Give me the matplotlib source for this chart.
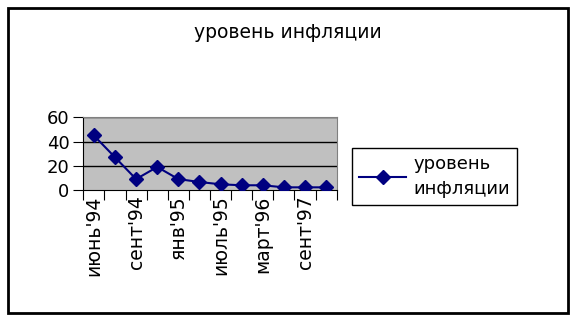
import matplotlib.pyplot as plt
from matplotlib.patches import Rectangle
import numpy as np

plt.rcParams['font.family'] = ['DejaVu Sans']

# periods (only every second one is labelled on the chart)
periods = ["июнь'94", "", "сент'94", "", "янв'95", "", "июль'95", "", "март'96", "", "сент'97", ""]
inflation = [45, 27, 9, 19, 9, 6.6, 4.7, 3.9, 3.9, 2.2, 2.2, 2.2]
y_ticks = [0, 20, 40, 60]
series_name = "уровень\nинфляции"
title = "уровень инфляции"

fig = plt.figure(figsize=(5.76, 3.23), dpi=100)
fig.patches.append(Rectangle((8 / 576, 1 - 313 / 323), 560 / 576, 305 / 323,
                             transform=fig.transFigure, fill=False,
                             edgecolor='black', linewidth=2))

ax = fig.add_axes([83.3 / 576, 1 - 190 / 323, 253.4 / 576, 72.7 / 323])
ax.set_facecolor('#C0C0C0')

x = np.arange(len(inflation))
ax.plot(x, inflation, color='#000080', marker='D', markersize=7, linewidth=1.5,
        label=series_name, zorder=3)

ax.set_xlim(-0.5, len(inflation) - 0.5)
ax.set_ylim(0, 60)
ax.set_yticks(y_ticks)
ax.tick_params(axis='y', labelsize=13, length=7, direction='out', pad=3)
for yv in y_ticks[1:]:
    ax.axhline(yv, color='black', linewidth=1, zorder=1)

# category boundaries get the tick marks, labels sit in the middle
ax.set_xticks(np.arange(-0.5, len(inflation), 1))
ax.set_xticklabels([])
ax.tick_params(axis='x', which='major', length=7, direction='out')
ax.set_xticks(x, minor=True)
ax.set_xticklabels(periods, minor=True, rotation=90, fontsize=13.5)
ax.tick_params(axis='x', which='minor', length=0, pad=4)

ax.spines['left'].set_color('black')
ax.spines['bottom'].set_color('black')
ax.spines['top'].set_color('#808080')
ax.spines['right'].set_color('#808080')

fig.text(0.5, 1 - 33 / 323, title, ha='center', va='center', fontsize=13.5)

leg = ax.legend(loc='center left', bbox_to_anchor=(352 / 576, 1 - 176.5 / 323),
                bbox_transform=fig.transFigure, fontsize=13, fancybox=False,
                edgecolor='black', framealpha=1, handlelength=2.6,
                borderpad=0.4, borderaxespad=0, handletextpad=0.4)
leg.get_frame().set_linewidth(1)
for t in leg.get_texts():
    t.set_linespacing(1.5)

fig.savefig('out.png', dpi=100)
